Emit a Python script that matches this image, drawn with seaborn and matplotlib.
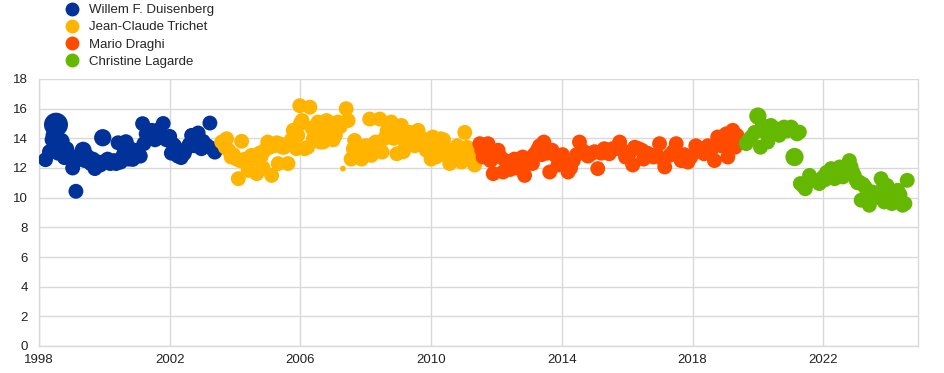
import matplotlib
matplotlib.use("Agg")
import matplotlib.pyplot as plt
from matplotlib.lines import Line2D
import seaborn as sns
import pandas as pd

presidents = ["Willem F. Duisenberg", "Jean-Claude Trichet", "Mario Draghi", "Christine Lagarde"]
colors = ["#003299", "#FFB400", "#FF4B00", "#65B800"]

duisenberg_year = [1998.20, 1998.32, 1998.40, 1998.45, 1998.52, 1998.62, 1998.68, 1998.78, 1998.92, 1999.03,
                   1999.13, 1999.25, 1999.35, 1999.48, 1999.58, 1999.71, 1999.82, 1999.95, 2000.05, 2000.18,
                   2000.30, 2000.42, 2000.50, 2000.58, 2000.66, 2000.75, 2000.87, 2000.95, 2001.10, 2001.17,
                   2001.21, 2001.35, 2001.45, 2001.55, 2001.68, 2001.80, 2001.90, 2002.00, 2002.05, 2002.15,
                   2002.25, 2002.35, 2002.45, 2002.55, 2002.67, 2002.75, 2002.87, 2002.97, 2003.08, 2003.23,
                   2003.30, 2003.38,
                   1998.58, 1998.85, 1999.40, 1999.65, 1999.88, 2000.10, 2000.25, 2000.36, 2000.62, 2000.80,
                   2001.02, 2001.28, 2001.50, 2001.62, 2002.10, 2002.40, 2002.60, 2002.80, 2003.02, 2003.15]
duisenberg_value = [12.56, 13.1, 13.9, 14.2, 14.92, 13.6, 13.8, 12.7, 12.9, 12.0,
                    10.43, 12.6, 13.2, 12.8, 12.3, 11.96, 12.4, 14.04, 12.5, 12.3,
                    12.5, 13.7, 12.4, 12.9, 13.75, 12.6, 12.58, 12.9, 12.8, 14.99,
                    13.64, 14.5, 14.54, 13.9, 14.6, 15.0, 13.9, 14.13, 13.0, 13.5,
                    12.8, 12.7, 13.0, 13.4, 14.2, 13.5, 14.36, 13.3, 13.6, 15.03,
                    13.3, 13.07,
                    13.0, 13.3, 12.5, 12.6, 12.2, 12.6, 12.4, 12.3, 13.3, 13.3,
                    13.2, 14.3, 14.2, 14.0, 13.6, 12.9, 13.6, 13.9, 13.8, 13.5]
duisenberg_weight = [1.0, 1.0, 1.0, 1.2, 2.6, 1.0, 1.3, 1.0, 1.0, 1.0,
                     1.0, 1.0, 1.3, 1.0, 1.0, 1.0, 1.0, 1.35, 1.0, 1.0,
                     1.0, 1.0, 1.0, 1.0, 1.1, 1.0, 1.0, 1.0, 1.0, 1.0,
                     1.0, 1.0, 1.0, 1.0, 1.0, 1.0, 1.0, 1.0, 1.0, 1.0,
                     1.0, 1.0, 1.0, 1.0, 1.0, 1.0, 1.0, 1.0, 1.0, 1.0,
                     1.0, 1.0,
                     1.0, 1.0, 1.0, 1.0, 1.0, 1.0, 1.0, 1.0, 1.0, 1.0,
                     1.0, 1.0, 1.0, 1.0, 1.0, 1.0, 1.0, 1.0, 1.0, 1.0]

trichet_year = [2003.59, 2003.74, 2003.80, 2003.88, 2003.95, 2004.10, 2004.20, 2004.30, 2004.40, 2004.50,
                2004.66, 2004.75, 2004.86, 2004.91, 2005.00, 2005.12, 2005.20, 2005.32, 2005.40, 2005.50,
                2005.62, 2005.66, 2005.78, 2005.88, 2005.98, 2006.05, 2006.13, 2006.22, 2006.29, 2006.40,
                2006.54, 2006.60, 2006.70, 2006.80, 2006.90, 2007.00, 2007.15, 2007.30, 2007.40, 2007.46,
                2007.55, 2007.66, 2007.80, 2007.87, 2008.00, 2008.12, 2008.17, 2008.30, 2008.43, 2008.50,
                2008.65, 2008.78, 2008.85, 2008.95, 2009.09, 2009.20, 2009.35, 2009.50, 2009.60, 2009.75,
                2009.85, 2010.00, 2010.05, 2010.15, 2010.30, 2010.45, 2010.57, 2010.70, 2010.80, 2010.93,
                2011.03, 2011.15, 2011.33,
                2003.70, 2004.05, 2004.15, 2004.58, 2004.80, 2005.06, 2005.28, 2005.45, 2005.72, 2005.92,
                2006.00, 2006.35, 2006.48, 2006.65, 2006.85, 2006.95, 2007.07, 2007.22, 2007.62, 2007.72,
                2008.05, 2008.22, 2008.37, 2008.58, 2008.72, 2009.00, 2009.15, 2009.28, 2009.42, 2009.55,
                2009.68, 2009.92, 2010.22, 2010.38, 2010.50, 2010.63, 2010.86, 2011.10, 2011.22, 2011.40]
trichet_value = [13.75, 13.97, 13.2, 12.74, 12.9, 11.28, 13.8, 12.6, 11.84, 12.85,
                 11.62, 13.0, 12.0, 13.2, 13.75, 11.5, 13.5, 12.3, 13.6, 13.4,
                 12.3, 13.64, 14.54, 13.3, 16.2, 15.2, 13.3, 13.4, 16.1, 14.0,
                 15.1, 13.75, 13.75, 15.2, 14.3, 13.9, 15.1, 11.96, 16.0, 15.2,
                 12.6, 13.86, 12.8, 12.6, 13.5, 15.3, 12.85, 13.75, 15.3, 13.07,
                 14.5, 15.1, 14.0, 12.96, 14.87, 13.4, 14.4, 13.5, 14.54, 13.97,
                 13.2, 12.6, 14.09, 12.74, 13.97, 13.3, 12.3, 13.0, 13.5, 12.4,
                 14.4, 13.07, 12.2,
                 13.4, 12.6, 12.5, 12.6, 12.8, 13.4, 13.7, 13.4, 13.9, 14.2,
                 15.0, 14.7, 14.5, 14.3, 14.8, 15.0, 14.2, 14.8, 13.3, 12.8,
                 12.9, 13.4, 13.2, 14.0, 14.7, 14.2, 13.1, 13.7, 14.0, 13.9,
                 13.8, 13.6, 13.5, 13.9, 12.8, 12.9, 13.0, 13.4, 12.7, 12.6]
trichet_weight = [1.0] * 37 + [0.15] + [1.0] * 35 + [1.0] * 40

draghi_year = [2011.49, 2011.59, 2011.74, 2011.90, 2012.05, 2012.12, 2012.20, 2012.35, 2012.50, 2012.55,
               2012.70, 2012.80, 2012.86, 2013.05, 2013.15, 2013.32, 2013.45, 2013.63, 2013.70, 2013.80,
               2013.95, 2014.08, 2014.19, 2014.35, 2014.54, 2014.70, 2014.90, 2015.10, 2015.30, 2015.45,
               2015.65, 2015.77, 2015.95, 2016.17, 2016.23, 2016.45, 2016.50, 2016.80, 2016.99, 2017.15,
               2017.30, 2017.50, 2017.65, 2017.86, 2017.95, 2018.10, 2018.35, 2018.47, 2018.67, 2018.77,
               2018.88, 2019.03, 2019.08, 2019.23, 2019.30, 2019.42,
               2011.55, 2011.67, 2011.82, 2011.97, 2012.27, 2012.42, 2012.62, 2012.95, 2013.10, 2013.25,
               2013.38, 2013.55, 2013.88, 2014.02, 2014.27, 2014.45, 2014.62, 2014.80, 2015.00, 2015.20,
               2015.55, 2015.85, 2016.05, 2016.35, 2016.62, 2016.90, 2017.08, 2017.40, 2017.75, 2018.20,
               2018.57, 2018.95, 2019.15, 2019.36]
draghi_value = [13.64, 12.74, 13.64, 11.62, 13.2, 12.74, 11.73, 12.3, 12.07, 12.6,
                12.2, 12.74, 11.5, 12.6, 12.9, 13.5, 13.75, 11.73, 13.2, 12.85,
                12.74, 12.4, 11.73, 12.5, 13.75, 13.07, 12.96, 11.96, 13.3, 12.96,
                13.3, 13.75, 12.74, 12.2, 13.4, 13.2, 12.6, 12.74, 13.64, 12.07,
                12.85, 13.64, 12.5, 12.4, 12.74, 13.5, 12.96, 13.5, 12.5, 14.09,
                13.5, 14.3, 12.74, 14.54, 13.4, 13.97,
                13.2, 13.1, 12.5, 12.9, 12.5, 11.9, 12.0, 12.3, 12.3, 13.2,
                12.9, 13.0, 12.2, 12.9, 12.0, 12.9, 13.2, 12.8, 13.1, 13.0,
                13.3, 13.2, 12.9, 13.3, 13.0, 12.9, 12.6, 13.1, 12.9, 13.3,
                13.2, 13.7, 13.5, 14.2]
draghi_weight = [1.0] * 90

lagarde_year = [2019.64, 2019.80, 2020.00, 2020.08, 2020.14, 2020.30, 2020.40, 2020.55, 2020.65, 2020.80,
                2021.02, 2021.12, 2021.27, 2021.30, 2021.45, 2021.58, 2021.72, 2021.88, 2022.00, 2022.10,
                2022.24, 2022.35, 2022.50, 2022.60, 2022.80, 2022.90, 2023.00, 2023.10, 2023.16, 2023.28,
                2023.41, 2023.50, 2023.65, 2023.77, 2023.87, 2023.95, 2024.10, 2024.28, 2024.43, 2024.57,
                2019.72, 2019.90, 2020.22, 2020.47, 2020.72, 2020.90, 2021.20, 2021.38, 2021.65, 2021.80,
                2022.05, 2022.17, 2022.30, 2022.42, 2022.55, 2022.70, 2022.85, 2022.95, 2023.05, 2023.22,
                2023.35, 2023.58, 2023.70, 2023.82, 2024.00, 2024.20, 2024.35, 2024.50]
lagarde_value = [13.64, 14.09, 15.5, 13.4, 14.87, 13.75, 14.87, 14.65, 14.2, 14.76,
                 14.76, 12.74, 14.42, 10.95, 10.6, 11.5, 11.17, 10.95, 11.4, 11.7,
                 11.96, 11.28, 12.07, 11.4, 12.5, 11.73, 11.2, 11.06, 9.83, 10.72,
                 9.49, 10.38, 10.28, 11.28, 9.71, 10.83, 9.6, 10.5, 9.49, 11.17,
                 13.9, 14.4, 14.4, 14.3, 14.6, 14.5, 14.3, 10.8, 11.2, 11.1,
                 11.2, 11.6, 11.7, 11.8, 11.6, 11.9, 12.1, 11.5, 11.0, 10.9,
                 10.5, 10.2, 10.0, 10.6, 10.0, 9.8, 10.2, 9.6]
lagarde_weight = [1.0, 1.0, 1.35, 1.0, 1.0, 1.0, 1.0, 1.0, 1.0, 1.0,
                  1.0, 1.5, 1.0, 1.0, 1.0, 1.0, 1.0, 1.0, 1.0, 1.0,
                  1.0, 1.0, 1.0, 1.0, 1.0, 1.0, 1.0, 1.0, 1.0, 1.0,
                  1.0, 1.0, 1.0, 1.0, 1.0, 1.0, 1.0, 1.0, 1.0, 1.0] + [1.0] * 28

x_ticks = [1998, 2002, 2006, 2010, 2014, 2018, 2022]
y_ticks = [0, 2, 4, 6, 8, 10, 12, 14, 16, 18]

frames = []
for name, yr, val, w in zip(presidents,
                            [duisenberg_year, trichet_year, draghi_year, lagarde_year],
                            [duisenberg_value, trichet_value, draghi_value, lagarde_value],
                            [duisenberg_weight, trichet_weight, draghi_weight, lagarde_weight]):
    frames.append(pd.DataFrame({"year": yr, "value": val, "weight": w, "president": name}))
df = pd.concat(frames, ignore_index=True).sort_values("year", kind="stable").reset_index(drop=True)

sns.set_theme(style="white")
plt.rcParams["font.family"] = ["Liberation Sans", "DejaVu Sans"]

fig = plt.figure(figsize=(9.45, 3.73), dpi=100)
ax = fig.add_axes([39 / 945, 1 - 346 / 373, (918 - 39) / 945, (346 - 79) / 373])

sns.scatterplot(data=df, x="year", y="value", hue="president", hue_order=presidents,
                palette=colors, size="weight", sizes=(0, 345), size_norm=(0, 3),
                linewidth=0, alpha=1, legend=False, ax=ax, zorder=3)

ax.set_xlim(1998, 2024.9)
ax.set_ylim(0, 18)
ax.set_xticks(x_ticks)
ax.set_xticklabels([str(t) for t in x_ticks])
ax.set_yticks(y_ticks)
ax.set_yticklabels([str(t) for t in y_ticks])
ax.set_xlabel("")
ax.set_ylabel("")
ax.grid(True, color="#d9d9d9", linewidth=1)
ax.set_axisbelow(True)
for s in ax.spines.values():
    s.set_color("#d9d9d9")
    s.set_linewidth(1)
ax.spines["top"].set_visible(False)
ax.tick_params(axis="both", length=0, labelsize=9.5, colors="#222222")
ax.tick_params(axis="x", pad=6)
ax.tick_params(axis="y", pad=8)

handles = [Line2D([0], [0], marker="o", linestyle="", markersize=10, markerfacecolor=c,
                  markeredgewidth=0) for c in colors]
fig.legend(handles, presidents, loc="upper left", bbox_to_anchor=(65 / 945, 1.0 - 4 / 373),
           frameon=False, fontsize=9.5, handletextpad=0.8, labelspacing=0.38,
           handlelength=1.0, borderaxespad=0, borderpad=0)

fig.savefig("out.png", dpi=100)
